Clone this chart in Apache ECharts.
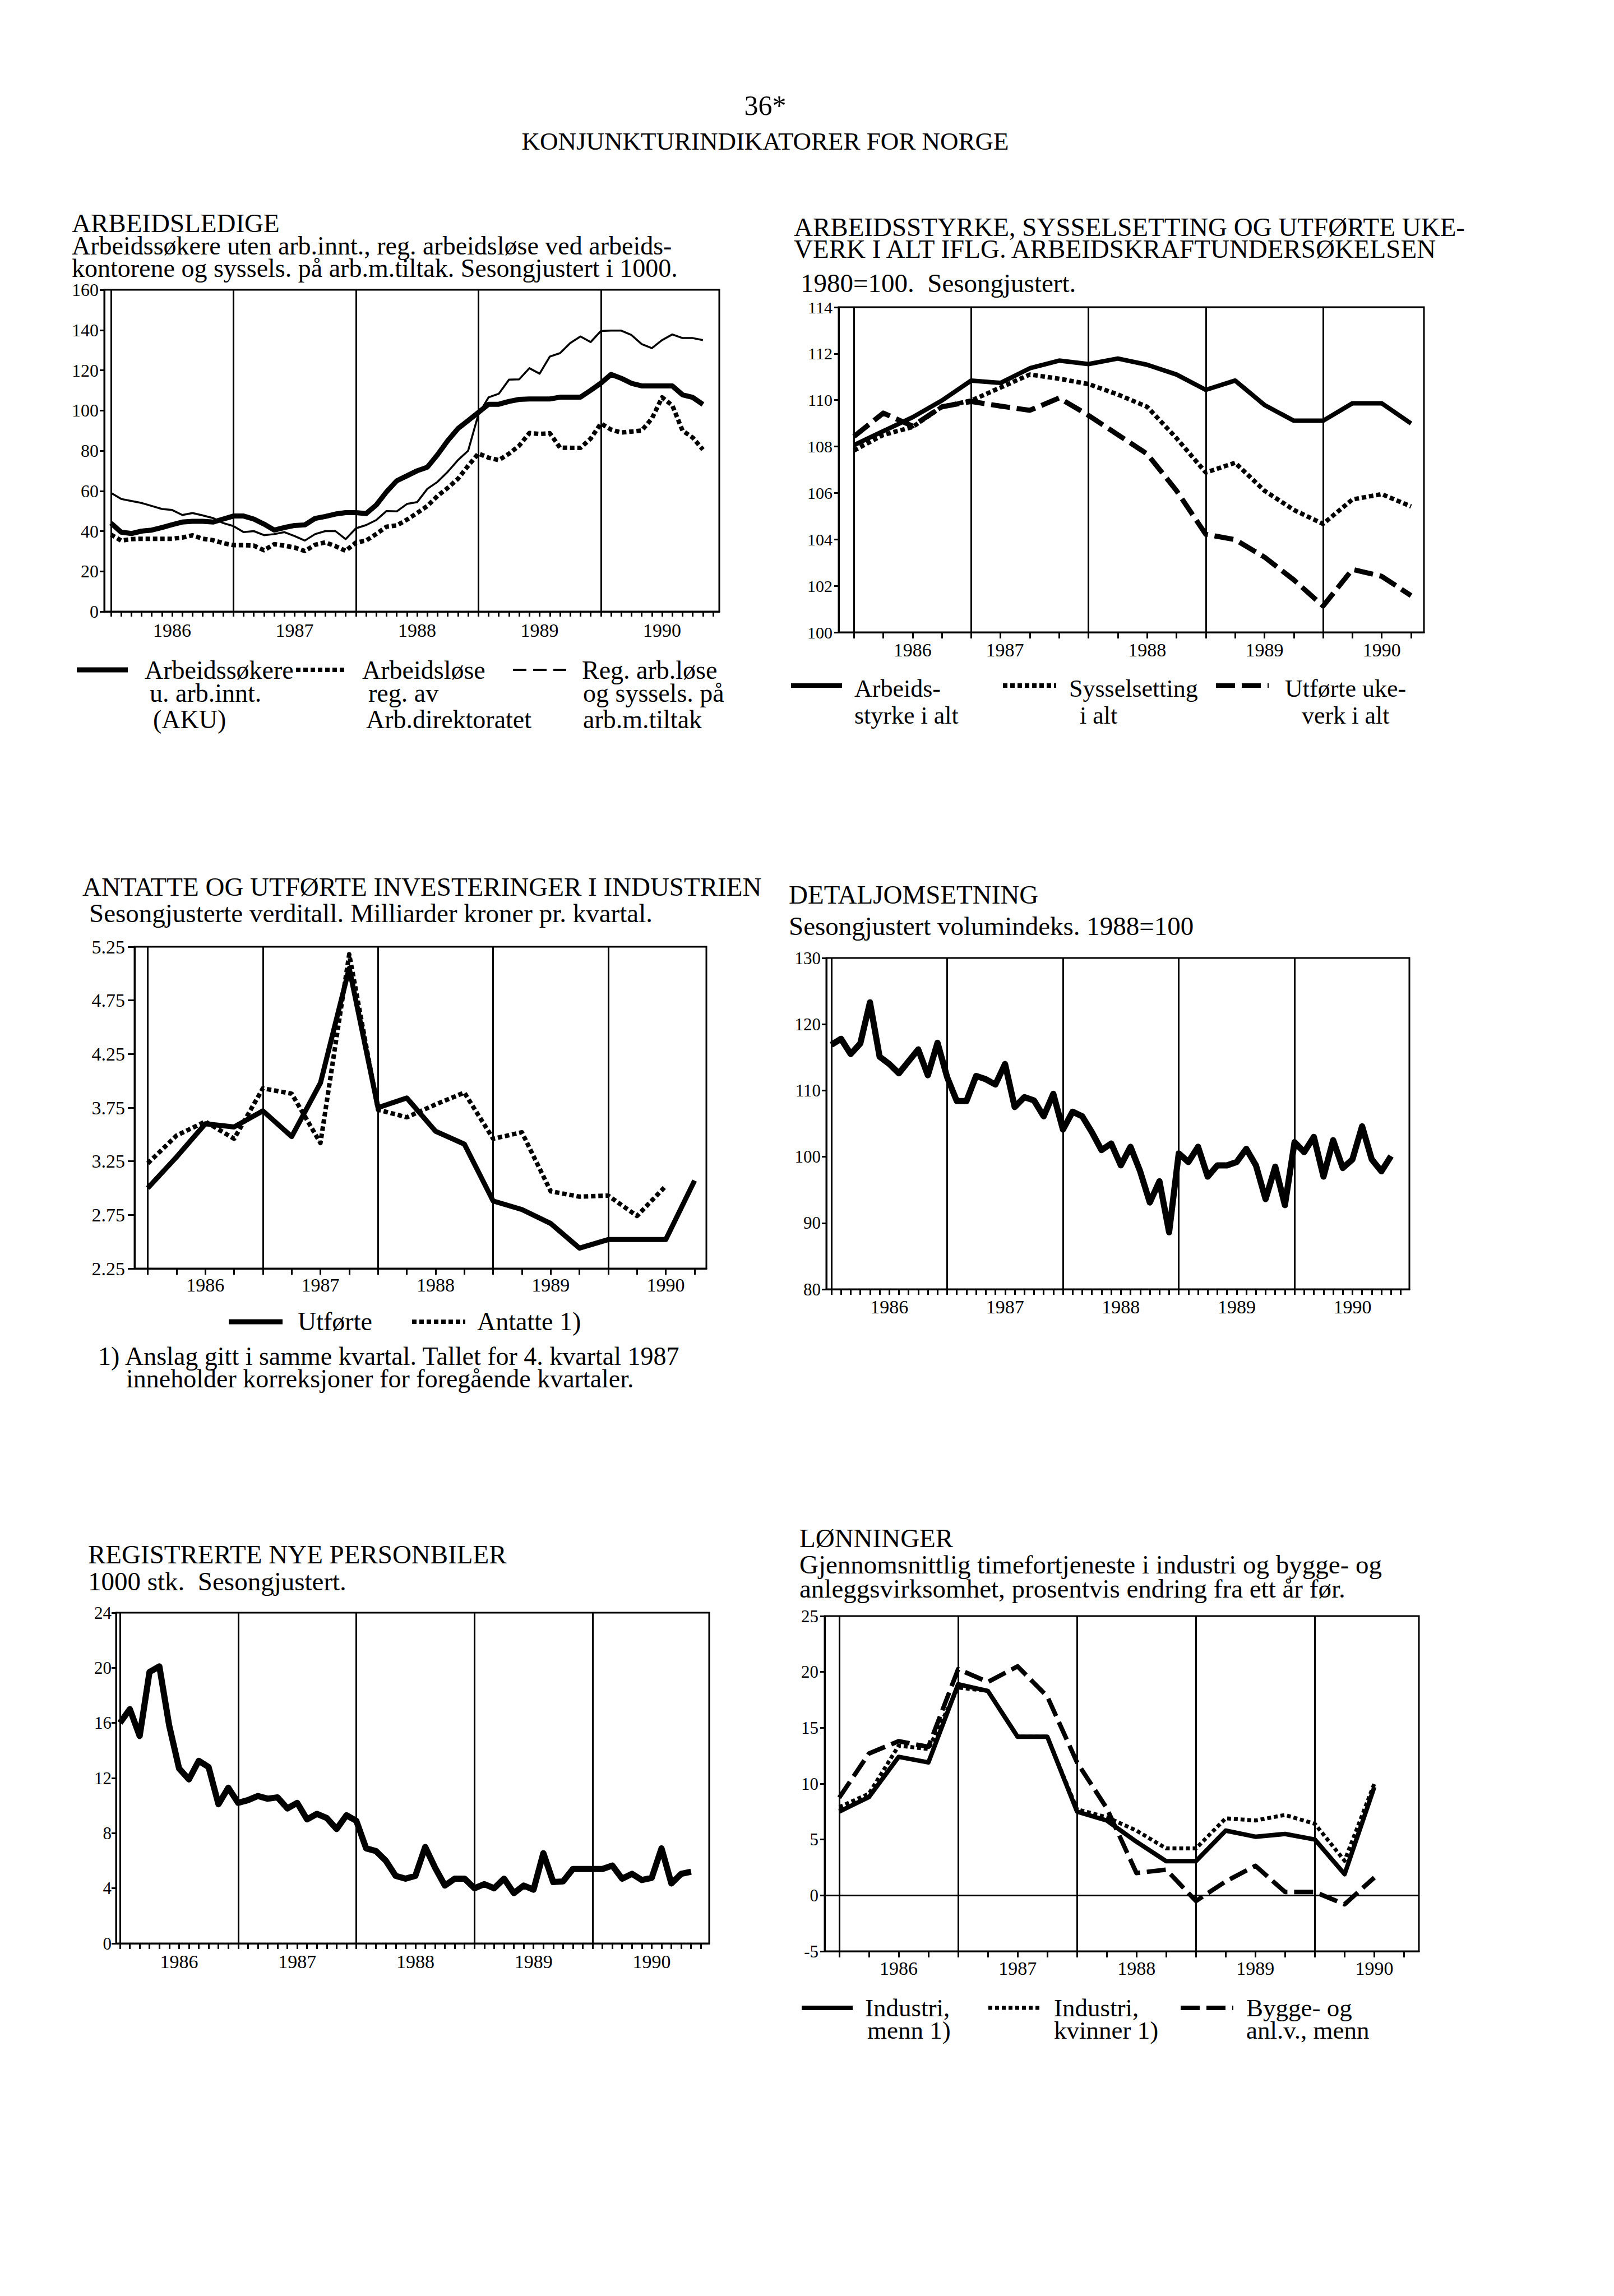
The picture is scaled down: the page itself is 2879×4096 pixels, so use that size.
<!DOCTYPE html>
<html><head><meta charset="utf-8">
<script src="https://cdn.jsdelivr.net/npm/echarts@6/dist/echarts.min.js"></script>
<style>html,body{margin:0;padding:0;background:#fff}#c{width:2879px;height:4096px}</style>
</head><body><div id="c"></div>
<script>
const FONT = '"Liberation Serif","Times New Roman","DejaVu Serif",serif';

// ---------- DATA ----------
const years = ['1986', '1987', '1988', '1989', '1990'];

// Chart 1: ARBEIDSLEDIGE, monthly from Jan 1986 (1000 persons)
const c1Aku = [44, 39.5, 38.8, 40, 40.5, 41.8, 43.2, 44.5, 44.9, 44.9, 44.5, 46, 47.5, 47.5, 46, 43.5, 40.5, 41.8, 42.8, 43.1, 46.3, 47.3, 48.5, 49.2, 49.2, 48.7, 53, 59.5, 65, 67.5, 70, 71.8, 78, 85, 91, 95, 99, 103.1, 103.1, 104.5, 105.5, 105.7, 105.7, 105.7, 106.6, 106.6, 106.6, 110, 113.6, 117.9, 116, 113.5, 112.2, 112.2, 112.2, 112.2, 107.8, 106.5, 103];
const c1Arbl = [38.3, 35.3, 36, 36.2, 36.2, 36.2, 36.2, 36.8, 37.9, 36.2, 35.5, 34, 33, 33, 32.8, 30.5, 33.5, 32.8, 31.8, 30.1, 33.2, 34.4, 32.5, 30.2, 34.3, 35.3, 38.6, 42.2, 42.8, 45.7, 49, 52.5, 57.5, 61.5, 66, 72.5, 78.6, 76.5, 75.3, 78.5, 82.5, 88.8, 88.3, 88.7, 81.5, 81.4, 81.4, 86, 93.5, 90.5, 89, 89.5, 90, 96, 106.5, 102.5, 90, 86.5, 80.5];
const c1Reg = [59, 56, 55, 54, 52.5, 51, 50.5, 48, 49, 47.8, 46.5, 44, 42.5, 39.5, 40, 38, 38.5, 39.5, 37.5, 35.3, 38.5, 40, 40, 36, 41.4, 43, 45.5, 50, 49.8, 53.5, 54.4, 61, 64.5, 69.5, 75.3, 80, 98, 106.5, 108.3, 115.3, 115.5, 121, 118.3, 126.8, 128.5, 133.5, 136.8, 134, 139.5, 139.7, 139.7, 137.5, 133, 131, 135, 137.8, 136, 136, 135];

// Chart 2: ARBEIDSSTYRKE etc., quarterly from 1986 Q1 (1980=100)
const c2Styrke = [108.06, 108.66, 109.26, 109.98, 110.84, 110.74, 111.37, 111.70, 111.55, 111.79, 111.52, 111.1, 110.44, 110.84, 109.79, 109.11, 109.11, 109.86, 109.86, 108.99];
const c2Syssel = [107.83, 108.5, 108.84, 109.71, 109.98, 110.54, 111.1, 110.92, 110.69, 110.24, 109.71, 108.36, 106.88, 107.3, 106.1, 105.27, 104.67, 105.72, 105.95, 105.42];
const c2Ukeverk = [108.43, 109.44, 108.88, 109.71, 109.94, 109.74, 109.56, 110.09, 109.34, 108.51, 107.68, 106.1, 104.22, 103.99, 103.24, 102.26, 101.13, 102.71, 102.41, 101.58];

// Chart 3: Investeringer i industrien, quarterly (mrd. kr)
const c3Utforte = [3.0, 3.29, 3.6, 3.57, 3.72, 3.48, 3.98, 5.05, 3.75, 3.84, 3.53, 3.41, 2.88, 2.80, 2.67, 2.44, 2.52, 2.52, 2.52, 3.07];
const c3Antatte = [3.23, 3.49, 3.62, 3.46, 3.93, 3.88, 3.42, 5.18, 3.73, 3.66, 3.78, 3.89, 3.46, 3.52, 2.97, 2.92, 2.93, 2.74, 3.02];

// Chart 4: Detaljomsetning, monthly (1988=100)
const c4Detalj = [116.9, 117.8, 115.5, 117.1, 123.3, 115.1, 114.0, 112.6, 114.4, 116.2, 112.3, 117.2, 112.0, 108.4, 108.4, 112.2, 111.7, 110.9, 114.0, 107.5, 109.0, 108.5, 106.1, 109.5, 104.1, 106.8, 106.1, 103.7, 101.0, 102.0, 98.7, 101.5, 97.8, 93.1, 96.3, 88.6, 100.5, 99.2, 101.5, 97.0, 98.7, 98.7, 99.2, 101.2, 98.7, 93.6, 98.5, 92.7, 102.2, 100.7, 103.0, 97.0, 102.5, 98.3, 99.6, 104.6, 99.6, 97.8, 100.1];

// Chart 5: Registrerte nye personbiler, monthly (1000 stk)
const c5Biler = [16.0, 17.0, 15.05, 19.7, 20.1, 15.8, 12.7, 11.9, 13.25, 12.8, 10.1, 11.3, 10.2, 10.4, 10.7, 10.5, 10.6, 9.8, 10.2, 9.0, 9.4, 9.1, 8.3, 9.3, 8.9, 6.9, 6.7, 6.0, 4.9, 4.7, 4.9, 7.0, 5.5, 4.2, 4.7, 4.7, 4.0, 4.3, 4.0, 4.7, 3.65, 4.2, 3.9, 6.55, 4.45, 4.5, 5.4, 5.4, 5.4, 5.4, 5.65, 4.7, 5.05, 4.6, 4.75, 6.9, 4.35, 5.05, 5.2];

// Chart 6: Lønninger, quarterly (% change from a year before)
const c6Menn = [7.5, 8.8, 12.4, 11.9, 18.9, 18.3, 14.2, 14.2, 7.5, 6.7, 4.8, 3.06, 3.06, 5.8, 5.25, 5.5, 5.0, 1.9, 9.7];
const c6Kvinner = [7.9, 9.1, 13.4, 13.1, 18.6, 18.3, 14.2, 14.2, 7.7, 7.0, 5.8, 4.2, 4.2, 6.9, 6.7, 7.2, 6.4, 3.1, 10.0];
const c6Bygge = [8.75, 12.7, 13.8, 13.3, 20.25, 19.1, 20.5, 17.8, 11.9, 7.8, 2.0, 2.3, -0.5, 1.25, 2.65, 0.3, 0.3, -0.8, 1.6];

// Axis tick values
const monthTicks = Array.from({length: 60}, (_, i) => i);
const quarterTicks = Array.from({length: 20}, (_, i) => i);
const yearStartsM = [0, 12, 24, 36, 48];
const yearStartsQ = [0, 4, 8, 12, 16];
const yearMidM = [6, 18, 30, 42, 54];
const yearMidQ = [2, 6, 10, 14, 18];
const yearMidQ2 = [2, 5.15, 10, 14, 18];
const c3YTicks = [2.25, 2.75, 3.25, 3.75, 4.25, 4.75, 5.25];

// ---------- HELPERS ----------
const BLK = '#000';
const toXY = arr => arr.map((v, i) => [i, v]);
function yearFmt(pos) {
  return v => { const i = pos.findIndex(p => Math.abs(p - v) < 1e-6); return i >= 0 ? years[i] : ''; };
}
function T(x, base, text, fs, align) {
  return { type: 'text', x: x, y: base - 0.34 * fs, silent: true, z: 100,
    style: { text: text, fill: BLK, fontSize: fs, fontFamily: FONT,
      align: align || 'left', textAlign: align || 'left', verticalAlign: 'middle', textVerticalAlign: 'middle' } };
}
function L(x1, y1, x2, y2, w, dash) {
  return { type: 'line', silent: true, z: 100, shape: { x1, y1, x2, y2 },
    style: { stroke: BLK, lineWidth: w, lineDash: dash || null, lineCap: 'butt' } };
}

const grids = [], xAxes = [], yAxes = [], series = [], gfx = [];

function addPanel(p) {
  const gi = grids.length;
  grids.push({ left: p.left, top: p.top, width: p.width, height: p.height, show: true,
    borderColor: BLK, borderWidth: 3, backgroundColor: 'transparent' });
  xAxes.push({ gridIndex: gi, type: 'value', min: p.xmin, max: p.xmax,
    axisLine: { show: true, onZero: false, lineStyle: { color: BLK, width: 3 } },
    axisTick: { show: true, customValues: p.xTicks, length: p.xTickLen, inside: false, lineStyle: { color: BLK, width: 3 } },
    axisLabel: { show: true, customValues: p.xLabels, formatter: yearFmt(p.xLabels), margin: p.xLabelMargin,
      fontSize: p.xLabelFs, fontFamily: FONT, color: BLK },
    splitLine: { show: false } });
  const ya = { gridIndex: gi, type: 'value', min: p.ymin, max: p.ymax,
    axisLine: { show: true, onZero: false, lineStyle: { color: BLK, width: 3 } },
    axisTick: { show: true, length: p.yTickLen, inside: false, lineStyle: { color: BLK, width: 3 } },
    axisLabel: { show: true, margin: p.yLabelMargin, fontSize: p.yLabelFs, fontFamily: FONT, color: BLK },
    splitLine: { show: false } };
  if (p.yCustom) {
    ya.axisTick.customValues = p.yCustom;
    ya.axisLabel.customValues = p.yCustom;
    ya.axisLabel.formatter = v => v.toFixed(2);
  } else {
    ya.interval = p.yInterval;
  }
  yAxes.push(ya);
  p.lines.forEach((s, k) => {
    const ser = { type: 'line', xAxisIndex: gi, yAxisIndex: gi, data: toXY(s.data),
      symbol: 'none', showSymbol: false, silent: true, animation: false, z: 5,
      lineStyle: { color: BLK, width: s.width, type: s.dash || 'solid', cap: 'butt', join: 'round' } };
    if (k === 0) {
      const ml = p.yearStarts.map(v => ({ xAxis: v }));
      if (p.zeroLine) ml.push({ yAxis: 0 });
      ser.markLine = { silent: true, symbol: ['none', 'none'], animation: false,
        label: { show: false }, lineStyle: { color: BLK, width: 3, type: 'solid' }, data: ml };
    }
    series.push(ser);
  });
}

// ---------- PAGE HEADER ----------
gfx.push(T(1365, 205, '36*', 50, 'center'));
gfx.push(T(1365, 267, 'KONJUNKTURINDIKATORER FOR NORGE', 45, 'center'));

// ---------- CHART 1 ----------
gfx.push(T(128, 414, 'ARBEIDSLEDIGE', 47));
gfx.push(T(128, 454, 'Arbeidssøkere uten arb.innt., reg. arbeidsløse ved arbeids-', 46));
gfx.push(T(128, 494, 'kontorene og syssels. på arb.m.tiltak. Sesongjustert i 1000.', 46));
addPanel({ left: 186, top: 517, width: 1097, height: 574, xmin: -0.65, xmax: 59.6,
  xTicks: monthTicks, xTickLen: 9, xLabels: yearMidM, xLabelMargin: 16, xLabelFs: 34,
  ymin: 0, ymax: 160, yInterval: 20, yTickLen: 8, yLabelMargin: 10, yLabelFs: 32,
  yearStarts: yearStartsM,
  lines: [ { data: c1Reg, width: 3.5 }, { data: c1Arbl, width: 8, dash: [8, 5] }, { data: c1Aku, width: 9 } ] });
gfx.push(L(137, 1195, 228, 1195, 9));
gfx.push(T(258, 1211, 'Arbeidssøkere', 46));
gfx.push(T(267, 1252, 'u. arb.innt.', 46));
gfx.push(T(273, 1299, '(AKU)', 46));
gfx.push(L(528, 1195, 615, 1195, 8, [8, 5]));
gfx.push(T(646, 1211, 'Arbeidsløse', 46));
gfx.push(T(657, 1252, 'reg. av', 46));
gfx.push(T(653, 1299, 'Arb.direktoratet', 46));
gfx.push(L(915, 1195, 1010, 1195, 4, [24, 12]));
gfx.push(T(1038, 1211, 'Reg. arb.løse', 46));
gfx.push(T(1040, 1252, 'og syssels. på', 46));
gfx.push(T(1040, 1299, 'arb.m.tiltak', 46));

// ---------- CHART 2 ----------
gfx.push(T(1416, 421, 'ARBEIDSSTYRKE, SYSSELSETTING OG UTFØRTE UKE-', 47));
gfx.push(T(1416, 460, 'VERK I ALT IFLG. ARBEIDSKRAFTUNDERSØKELSEN', 47));
gfx.push(T(1428, 521, '1980=100.  Sesongjustert.', 47));
addPanel({ left: 1496, top: 548, width: 1044, height: 580, xmin: -0.52, xmax: 19.44,
  xTicks: quarterTicks, xTickLen: 11, xLabels: yearMidQ2, xLabelMargin: 14, xLabelFs: 34,
  ymin: 100, ymax: 114, yInterval: 2, yTickLen: 8, yLabelMargin: 11, yLabelFs: 30,
  yearStarts: yearStartsQ,
  lines: [ { data: c2Ukeverk, width: 9, dash: [34, 12] }, { data: c2Syssel, width: 8, dash: [8, 5] }, { data: c2Styrke, width: 8 } ] });
gfx.push(L(1411, 1223, 1502, 1223, 8));
gfx.push(T(1524, 1243, 'Arbeids-', 44));
gfx.push(T(1524, 1291, 'styrke i alt', 44));
gfx.push(L(1789, 1223, 1884, 1223, 8, [8, 5]));
gfx.push(T(1907, 1243, 'Sysselsetting', 44));
gfx.push(T(1926, 1291, 'i alt', 44));
gfx.push(L(2169, 1223, 2263, 1223, 8, [34, 12]));
gfx.push(T(2292, 1243, 'Utførte uke-', 44));
gfx.push(T(2322, 1291, 'verk i alt', 44));

// ---------- CHART 3 ----------
gfx.push(T(147, 1598, 'ANTATTE OG UTFØRTE INVESTERINGER I INDUSTRIEN', 47));
gfx.push(T(159, 1645, 'Sesongjusterte verditall. Milliarder kroner pr. kvartal.', 47));
addPanel({ left: 240, top: 1689, width: 1020, height: 574, xmin: -0.46, xmax: 19.41,
  xTicks: quarterTicks, xTickLen: 11, xLabels: yearMidQ, xLabelMargin: 12, xLabelFs: 34,
  ymin: 2.25, ymax: 5.25, yCustom: c3YTicks, yTickLen: 12, yLabelMargin: 17, yLabelFs: 34,
  yearStarts: yearStartsQ,
  lines: [ { data: c3Antatte, width: 8, dash: [8, 5] }, { data: c3Utforte, width: 9 } ] });
gfx.push(L(408, 2358, 504, 2358, 9));
gfx.push(T(531, 2373, 'Utførte', 46));
gfx.push(L(735, 2358, 830, 2358, 8, [8, 5]));
gfx.push(T(851, 2373, 'Antatte 1)', 46));
gfx.push(T(175, 2435, '1)', 46));
gfx.push(T(223, 2435, 'Anslag gitt i samme kvartal. Tallet for 4. kvartal 1987', 46));
gfx.push(T(225, 2475, 'inneholder korreksjoner for foregående kvartaler.', 46));

// ---------- CHART 4 ----------
gfx.push(T(1407, 1612, 'DETALJOMSETNING', 47));
gfx.push(T(1407, 1668, 'Sesongjustert volumindeks. 1988=100', 47));
addPanel({ left: 1474, top: 1709, width: 1040, height: 591, xmin: -0.52, xmax: 59.9,
  xTicks: monthTicks, xTickLen: 10, xLabels: yearMidM, xLabelMargin: 14, xLabelFs: 34,
  ymin: 80, ymax: 130, yInterval: 10, yTickLen: 8, yLabelMargin: 10, yLabelFs: 31,
  yearStarts: yearStartsM,
  lines: [ { data: c4Detalj, width: 11 } ] });

// ---------- CHART 5 ----------
gfx.push(T(157, 2789, 'REGISTRERTE NYE PERSONBILER', 47));
gfx.push(T(157, 2837, '1000 stk.  Sesongjustert.', 47));
addPanel({ left: 207, top: 2877, width: 1058, height: 590, xmin: -0.4, xmax: 59.84,
  xTicks: monthTicks, xTickLen: 10, xLabels: yearMidM, xLabelMargin: 15, xLabelFs: 34,
  ymin: 0, ymax: 24, yInterval: 4, yTickLen: 8, yLabelMargin: 8, yLabelFs: 31,
  yearStarts: yearStartsM,
  lines: [ { data: c5Biler, width: 11 } ] });

// ---------- CHART 6 ----------
gfx.push(T(1426, 2760, 'LØNNINGER', 47));
gfx.push(T(1426, 2807, 'Gjennomsnittlig timefortjeneste i industri og bygge- og', 47));
gfx.push(T(1426, 2850, 'anleggsvirksomhet, prosentvis endring fra ett år før.', 47));
addPanel({ left: 1471, top: 2883, width: 1060, height: 598, xmin: -0.49, xmax: 19.5,
  xTicks: quarterTicks, xTickLen: 11, xLabels: yearMidQ, xLabelMargin: 13, xLabelFs: 34,
  ymin: -5, ymax: 25, yInterval: 5, yTickLen: 8, yLabelMargin: 11, yLabelFs: 31,
  yearStarts: yearStartsQ, zeroLine: true,
  lines: [ { data: c6Bygge, width: 8, dash: [34, 12] }, { data: c6Kvinner, width: 7, dash: [7, 5] }, { data: c6Menn, width: 8 } ] });
gfx.push(L(1430, 3582, 1521, 3582, 8));
gfx.push(T(1543, 3597, 'Industri,', 45));
gfx.push(T(1547, 3637, 'menn 1)', 45));
gfx.push(L(1763, 3582, 1857, 3582, 7, [7, 5]));
gfx.push(T(1880, 3597, 'Industri,', 45));
gfx.push(T(1880, 3637, 'kvinner 1)', 45));
gfx.push(L(2106, 3582, 2200, 3582, 8, [34, 12]));
gfx.push(T(2223, 3597, 'Bygge- og', 45));
gfx.push(T(2223, 3637, 'anl.v., menn', 45));

// ---------- RENDER ----------
const chart = echarts.init(document.getElementById('c'), null, { renderer: 'svg', width: 2879, height: 4096 });
chart.setOption({
  backgroundColor: '#fff',
  animation: false,
  textStyle: { fontFamily: FONT, color: BLK },
  grid: grids, xAxis: xAxes, yAxis: yAxes, series: series,
  graphic: { elements: gfx }
});
</script>
</body></html>
